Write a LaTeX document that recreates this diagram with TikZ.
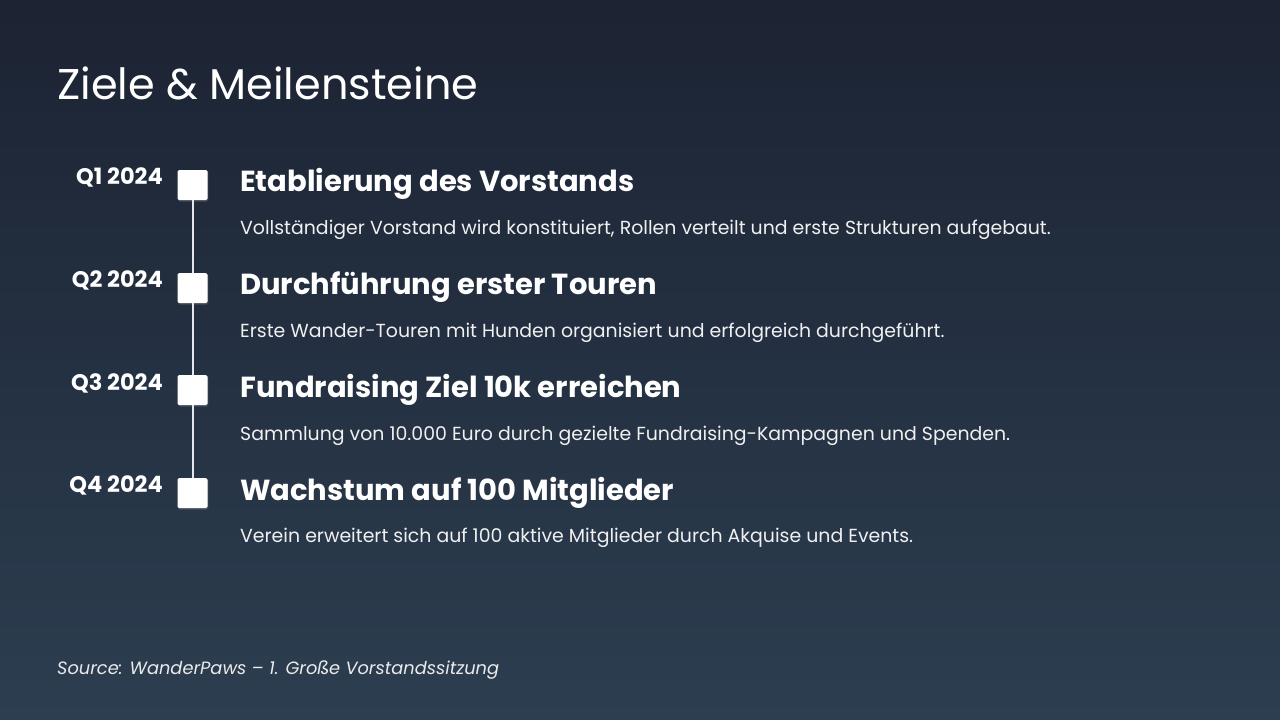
\documentclass[tikz,border=0pt]{standalone}
\usepackage{fontspec}
\setmainfont{Poppins}
\usetikzlibrary{shadows}
\definecolor{bgtop}{HTML}{1C2333}
\definecolor{bgbot}{HTML}{2C3E50}
\definecolor{linec}{HTML}{E4E6EA}
\begin{document}
\begin{tikzpicture}[x=1pt,y=-1pt,
  mile/.style={fill=white, minimum size=30pt, inner sep=0pt, rounded corners=1.5pt,
    drop shadow={shadow xshift=0.8pt, shadow yshift=-1.5pt, opacity=0.35}},
  qlab/.style={anchor=base east, inner sep=0pt, text=white, font=\fontsize{22.5}{26}\selectfont\bfseries},
  ttl/.style={anchor=base west, inner sep=0pt, text=white, font=\fontsize{29}{34}\selectfont\bfseries},
  desc/.style={anchor=base west, inner sep=0pt, text=white!94!black, font=\fontsize{18.9}{22}\selectfont},
  conn/.style={draw=linec, line width=2pt}]
\shade[top color=bgtop, bottom color=bgbot] (0,0) rectangle (1280,720);
\useasboundingbox (0,0) rectangle (1280,720);

\node[anchor=base west, inner sep=0pt, text=white, font=\fontsize{43}{50}\selectfont] (title) at (57,99) {Ziele \& Meilensteine};

\node[mile] (m1) at (192.5,185) {};
\node[mile] (m2) at (192.5,288) {};
\node[mile] (m3) at (192.5,390) {};
\node[mile] (m4) at (192.5,493) {};
\draw[conn] (m1.south) -- (m2.north);
\draw[conn] (m2.south) -- (m3.north);
\draw[conn] (m3.south) -- (m4.north);

\node[qlab] (q1) at (163,184) {Q1 2024};
\node[qlab] (q2) at (163,287) {Q2 2024};
\node[qlab] (q3) at (163,390) {Q3 2024};
\node[qlab] (q4) at (163,492) {Q4 2024};

\node[ttl] (t1) at (240,191) {Etablierung des Vorstands};
\node[ttl] (t2) at (240,294) {Durchführung erster Touren};
\node[ttl] (t3) at (240,397) {Fundraising Ziel 10k erreichen};
\node[ttl] (t4) at (240,500) {Wachstum auf 100 Mitglieder};

\node[desc] (d1) at (240,234) {Vollständiger Vorstand wird konstituiert, Rollen verteilt und erste Strukturen aufgebaut.};
\node[desc] (d2) at (240,337) {Erste Wander-Touren mit Hunden organisiert und erfolgreich durchgeführt.};
\node[desc] (d3) at (240,440) {Sammlung von 10.000 Euro durch gezielte Fundraising-Kampagnen und Spenden.};
\node[desc] (d4) at (240,542) {Verein erweitert sich auf 100 aktive Mitglieder durch Akquise und Events.};

\node[anchor=base west, inner sep=0pt, text=white!92!black, font=\fontsize{17.8}{22}\selectfont\itshape] (src) at (57,674) {Source: WanderPaws – 1. Große Vorstandssitzung};
\end{tikzpicture}
\end{document}
